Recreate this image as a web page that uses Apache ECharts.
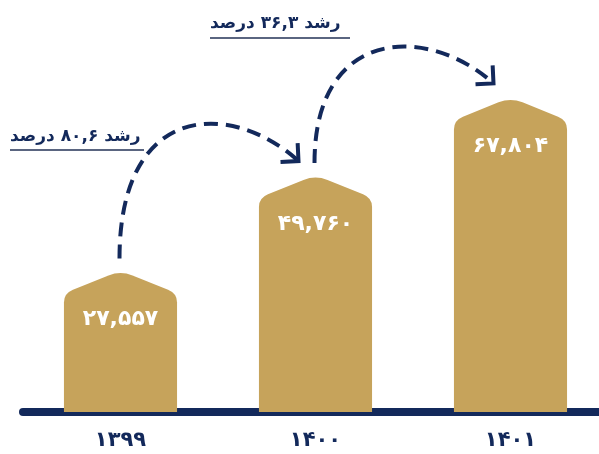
<!DOCTYPE html>
<html><head><meta charset="utf-8">
<script src="https://cdn.jsdelivr.net/npm/echarts@6/dist/echarts.min.js"></script>
<style>html,body{margin:0;padding:0;background:#fff}#c{width:599px;height:454px}</style>
</head><body><div id="c"></div>
<script>
const categories = ['۱۳۹۹', '۱۴۰۰', '۱۴۰۱'];
const values = [27557, 49760, 67804];
const valueLabels = ['۲۷,۵۵۷', '۴۹,۷۶۰', '۶۷,۸۰۴'];
const growthLabels = ['رشد ۸۰,۶ درصد', 'رشد ۳۶,۳ درصد'];

const GOLD = '#c6a35b';
const NAVY = '#13295b';
const FONT = 'DejaVu Sans';
const GABLE = 23;

const chart = echarts.init(document.getElementById('c'), null, {renderer: 'canvas'});

function barShape(params, api) {
  const i = params.dataIndex;
  const top = api.coord([i, api.value(1)]);
  const base = api.coord([i, 0]);
  const bw = api.size([1, 0])[0] * 0.58;
  const x0 = top[0] - bw / 2, x1 = top[0] + bw / 2, xc = top[0];
  const ys = top[1], yp = ys - GABLE, yb = base[1];
  const s = GABLE / (bw / 2);
  const p = [
    'M', x0, yb,
    'L', x0, ys + 9,
    'Q', x0, ys, x0 + 9, ys - 9 * s,
    'L', xc - 12, yp + 12 * s,
    'Q', xc, yp, xc + 12, yp + 12 * s,
    'L', x1 - 9, ys - 9 * s,
    'Q', x1, ys, x1, ys + 9,
    'L', x1, yb, 'Z'
  ].join(' ');
  return {
    type: 'group',
    children: [
      {type: 'path', shape: {pathData: p}, style: {fill: GOLD}},
      {type: 'text', x: xc, y: ys + 26,
        style: {text: valueLabels[i], fill: '#fff', font: 'bold 22px "' + FONT + '"', align: 'center', verticalAlign: 'middle'}}
    ]
  };
}

function arcShape(params, api) {
  const i = params.dataIndex;
  if (i >= values.length - 1) return null;
  const a = api.coord([i, values[i]]);
  const b = api.coord([i + 1, values[i + 1]]);
  const sx = a[0] - 1, sy = a[1] - GABLE - 12;
  const ex = b[0] - 17, ey = b[1] - GABLE - 14;
  const apex = ey - 36;
  const t = 0.55;
  const Y = (apex - Math.pow(1 - t, 3) * sy - Math.pow(t, 3) * ey) / (3 * (1 - t) * (1 - t) * t + 3 * (1 - t) * t * t);
  const mx = ex - (ey - Y) * 1.1;
  const path = ['M', sx, sy, 'C', sx, Y, mx, Y, ex, ey].join(' ');
  let dx = ex - mx, dy = ey - Y;
  const L = Math.hypot(dx, dy); dx /= L; dy /= L;
  const al = 18, ang = Math.PI / 4;
  const r1 = [Math.cos(ang) * (-dx) - Math.sin(ang) * (-dy), Math.sin(ang) * (-dx) + Math.cos(ang) * (-dy)];
  const r2 = [Math.cos(-ang) * (-dx) - Math.sin(-ang) * (-dy), Math.sin(-ang) * (-dx) + Math.cos(-ang) * (-dy)];
  const head = ['M', ex + r1[0] * al, ey + r1[1] * al, 'L', ex, ey, 'L', ex + r2[0] * al, ey + r2[1] * al].join(' ');
  return {
    type: 'group',
    children: [
      {type: 'path', shape: {pathData: path}, style: {fill: null, stroke: NAVY, lineWidth: 4, lineDash: [14, 8]}},
      {type: 'path', shape: {pathData: head}, style: {fill: null, stroke: NAVY, lineWidth: 4, lineJoin: 'miter'}}
    ]
  };
}

chart.setOption({
  animation: false,
  backgroundColor: '#fff',
  grid: {left: 23, width: 585, top: 68, bottom: 42, outerBoundsMode: 'none', containLabel: false},
  xAxis: {
    type: 'category', data: categories,
    axisLine: {show: true, lineStyle: {color: NAVY, width: 8}},
    axisTick: {show: false},
    axisLabel: {color: NAVY, fontSize: 21, fontWeight: 'bold', fontFamily: FONT, margin: 18}
  },
  yAxis: {type: 'value', min: 0, max: 80000, show: false, splitLine: {show: false}},
  series: [
    {type: 'custom', renderItem: barShape, data: values.map((v, i) => [i, v]), z: 2},
    {type: 'custom', renderItem: arcShape, data: values.map((v, i) => [i, v]), z: 3, clip: false}
  ],
  graphic: [
    {type: 'text', left: 10, top: 128, style: {text: growthLabels[0], fill: NAVY, font: 'bold 17px "' + FONT + '"'}},
    {type: 'rect', left: 10, top: 149, shape: {width: 134, height: 2}, style: {fill: '#5a6580'}},
    {type: 'text', left: 210, top: 15, style: {text: growthLabels[1], fill: NAVY, font: 'bold 17px "' + FONT + '"'}},
    {type: 'rect', left: 210, top: 37, shape: {width: 140, height: 2}, style: {fill: '#5a6580'}}
  ]
});
</script></body></html>
